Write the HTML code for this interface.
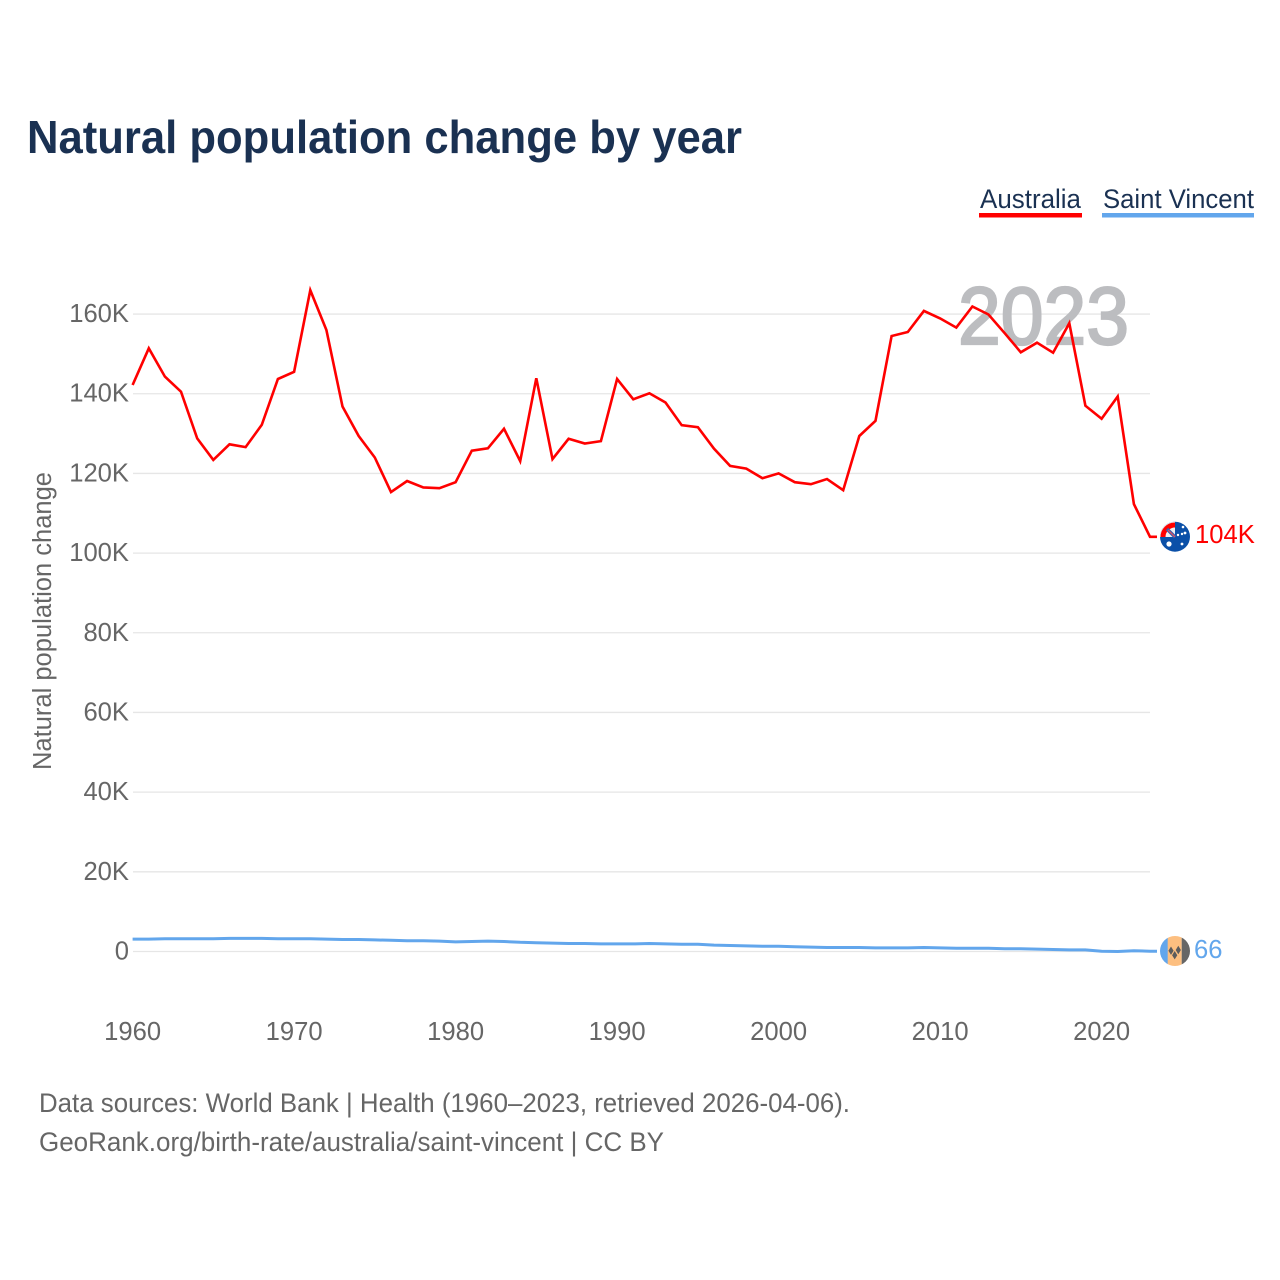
<!DOCTYPE html>
<html lang="en">
<head>
<meta charset="utf-8">
<title>Natural population change by year</title>
<style>
html,body{margin:0;padding:0;background:#fff;}
svg{display:block;font-family:"Liberation Sans",sans-serif;}
.tick{font-size:25.6px;fill:#666;}
</style>
</head>
<body>
<svg id="chart" width="1280" height="1280" viewBox="0 0 1280 1280" xmlns="http://www.w3.org/2000/svg">
  <defs>
    <clipPath id="clip-au"><circle cx="1175" cy="536.7" r="15"/></clipPath>
    <clipPath id="clip-vc"><circle cx="1175" cy="951" r="15"/></clipPath>
  </defs>
  <rect width="1280" height="1280" fill="#fff"/>
  <text x="27" y="153" font-size="46" font-weight="700" fill="#1a3152" textLength="715" lengthAdjust="spacingAndGlyphs">Natural population change by year</text>

  <g>
    <text x="980" y="208" font-size="27" fill="#1a3152" textLength="101" lengthAdjust="spacingAndGlyphs">Australia</text>
    <rect x="979" y="213" width="103" height="4.5" fill="#ff0000"/>
  </g>
  <g>
    <text x="1103" y="208" font-size="27" fill="#1a3152" textLength="151" lengthAdjust="spacingAndGlyphs">Saint Vincent</text>
    <rect x="1102" y="213" width="152" height="4.5" fill="#62a6ec"/>
  </g>

  <g id="grid"></g>
  <text x="958" y="344" font-size="82" font-weight="400" fill="#bcbdc0" stroke="#bcbdc0" stroke-width="2.2" textLength="171" lengthAdjust="spacingAndGlyphs">2023</text>
  <g id="yticks"></g>
  <g id="xticks"></g>
  <text transform="translate(51,770) rotate(-90)" font-size="25.5" fill="#666" textLength="298" lengthAdjust="spacingAndGlyphs">Natural population change</text>

  <polyline id="line-vc" fill="none" stroke="#62a6ec" stroke-width="3" stroke-linejoin="round"/>
  <polyline id="line-au" fill="none" stroke="#ff0000" stroke-width="2.6" stroke-linejoin="miter"/>

  <g clip-path="url(#clip-au)">
    <rect x="1160" y="521" width="30" height="31" fill="#0b50a8"/>
    <rect x="1160" y="521" width="15" height="16" fill="#f0f0f0"/>
    <path d="M1163 537a12 12 0 0 1 12 -12" fill="none" stroke="#ff0000" stroke-width="5"/>
    <path d="M1167 529l8 8" stroke="#3a5fae" stroke-width="3.4"/>
    <path d="M1168 530l7 7" stroke="#e8505b" stroke-width="1.2"/>
    <circle cx="1169" cy="544" r="2.6" fill="#fff"/>
    <circle cx="1178" cy="535" r="1.2" fill="#fff"/>
    <circle cx="1182" cy="534" r="1.2" fill="#fff"/>
    <circle cx="1185" cy="533" r="1.4" fill="#fff"/>
    <circle cx="1182" cy="544" r="1.4" fill="#fff"/>
    <circle cx="1183" cy="527" r="1.3" fill="#fff"/>
  </g>
  <g clip-path="url(#clip-vc)">
    <rect x="1160" y="936" width="8" height="30" fill="#62a6ec"/>
    <rect x="1167.7" y="936" width="14" height="30" fill="#fdbf80"/>
    <rect x="1181.7" y="936" width="9" height="30" fill="#666666"/>
    <path d="M1171 946.5l2.6 4.2-2.6 4.2-2.6-4.2zM1178.3 945.8l2.6 4.2-2.6 4.2-2.6-4.2zM1174.7 951l2.6 4.2-2.6 4.2-2.6-4.2z" fill="#5c5c5c"/>
  </g>
  <text id="end-au" x="1195" y="543" font-size="25.6" fill="#ff0000">104K</text>
  <text id="end-vc" x="1194" y="958" font-size="25.6" fill="#62a6ec">66</text>

  <text x="39" y="1112" font-size="27" fill="#666" textLength="811" lengthAdjust="spacingAndGlyphs">Data sources: World Bank | Health (1960–2023, retrieved 2026-04-06).</text>
  <text x="39" y="1151" font-size="27" fill="#666" textLength="625" lengthAdjust="spacingAndGlyphs">GeoRank.org/birth-rate/australia/saint-vincent | CC BY</text>
</svg>
<script>
const firstYear = 1960;
const xTickYears = [1960, 1970, 1980, 1990, 2000, 2010, 2020];
const yTickValues = [0, 20, 40, 60, 80, 100, 120, 140, 160];
const australiaValues = [
  142.2, 151.4, 144.3, 140.5, 128.8, 123.4, 127.3, 126.6, 132.2, 143.7,
  145.5, 166.0, 156.0, 136.8, 129.4, 124.0, 115.3, 118.1, 116.5, 116.3,
  117.8, 125.7, 126.3, 131.2, 123.1, 143.9, 123.6, 128.7, 127.5, 128.1,
  143.7, 138.6, 140.1, 137.8, 132.1, 131.6, 126.2, 121.9, 121.2, 118.8,
  120.0, 117.8, 117.3, 118.6, 115.8, 129.4, 133.2, 154.5, 155.5, 160.8,
  158.9, 156.6, 161.9, 159.9, 155.2, 150.4, 152.8, 150.3, 157.7, 137.0,
  133.7, 139.3, 112.3, 104.1
];
const saintVincentValues = [
  3.1, 3.1, 3.2, 3.2, 3.2, 3.2, 3.3, 3.3, 3.3, 3.2,
  3.2, 3.2, 3.1, 3.0, 3.0, 2.9, 2.8, 2.7, 2.7, 2.6,
  2.4, 2.5, 2.6, 2.5, 2.3, 2.2, 2.1, 2.0, 2.0, 1.9,
  1.9, 1.9, 2.0, 1.9, 1.8, 1.8, 1.6, 1.5, 1.4, 1.3,
  1.3, 1.2, 1.1, 1.0, 1.0, 1.0, 0.9, 0.9, 0.9, 1.0,
  0.9, 0.8, 0.8, 0.8, 0.7, 0.7, 0.6, 0.5, 0.4, 0.4,
  0.05, 0.0, 0.2, 0.066
];

const SVG_NS = 'http://www.w3.org/2000/svg';
function xScale(year) { return 132.6 + (year - 1960) * 16.15; }
function yScale(value) { return 951.5 - value * 3.984; }
function linePoints(values) {
  return values.map(function (v, i) {
    return xScale(firstYear + i).toFixed(1) + ',' + yScale(v).toFixed(1);
  }).join(' ');
}

const gridGroup = document.getElementById('grid');
const yTickGroup = document.getElementById('yticks');
const xTickGroup = document.getElementById('xticks');

yTickValues.forEach(function (v) {
  const line = document.createElementNS(SVG_NS, 'line');
  
  
  line.setAttribute('x1', 133);
  line.setAttribute('x2', 1150);
  line.setAttribute('y1', yScale(v));
  line.setAttribute('y2', yScale(v));
  line.setAttribute('stroke', '#e6e6e6');
  line.setAttribute('stroke-width', '1.3');
  gridGroup.appendChild(line);

  const label = document.createElementNS(SVG_NS, 'text');
  
  
  label.setAttribute('class', 'tick');
  label.setAttribute('x', 129);
  label.setAttribute('y', yScale(v) + 8);
  label.setAttribute('text-anchor', 'end');
  label.textContent = v === 0 ? '0' : v + 'K';
  yTickGroup.appendChild(label);
});

xTickYears.forEach(function (year) {
  const label = document.createElementNS(SVG_NS, 'text');
  
  
  label.setAttribute('class', 'tick');
  label.setAttribute('x', xScale(year));
  label.setAttribute('y', 1040);
  label.setAttribute('text-anchor', 'middle');
  label.textContent = String(year);
  xTickGroup.appendChild(label);
});

document.getElementById('line-au').setAttribute('points', linePoints(australiaValues) + ' 1157,' + yScale(australiaValues[australiaValues.length - 1]).toFixed(1));
document.getElementById('line-vc').setAttribute('points', linePoints(saintVincentValues) + ' 1157,' + yScale(saintVincentValues[saintVincentValues.length - 1]).toFixed(1));
</script>
</body>
</html>
